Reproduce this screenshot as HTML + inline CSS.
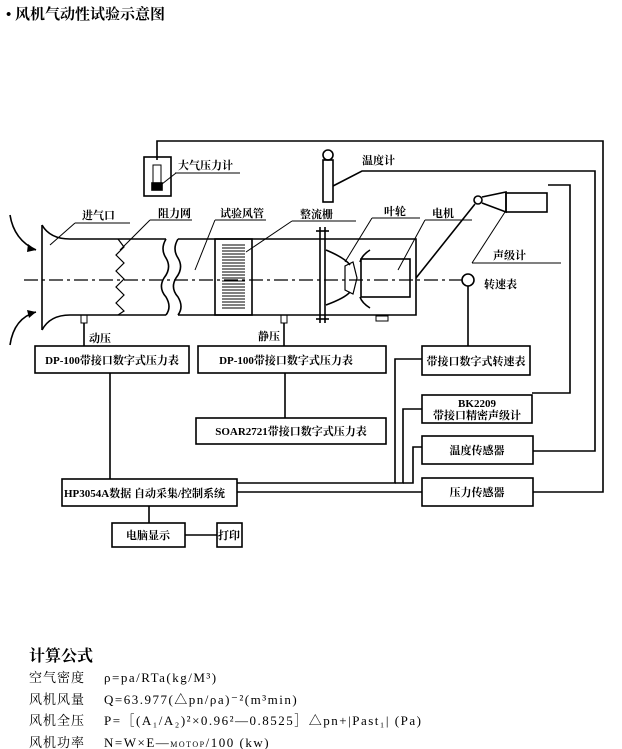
<!DOCTYPE html>
<html><head><meta charset="utf-8"><style>
html,body{margin:0;padding:0;background:#fff;}
svg{display:block;}
text{font-family:"Liberation Serif","Noto Serif CJK SC","Noto Sans CJK SC",serif;fill:#000;}
.b{font-weight:bold;font-size:11px;}
</style></head><body>
<svg width="622" height="749" viewBox="0 0 622 749" xmlns="http://www.w3.org/2000/svg">
<g fill="none" stroke="#000" stroke-width="1.6">
<polyline points="157,160 157,141 603,141 603,492 533,492"/>
<polyline points="333,186 362,171 595,171 595,451 533,451"/>
<polyline points="548,185 570,185 570,393 532,393"/>
<polyline points="237,483 395,483 395,359 422,359"/>
<polyline points="395,483 403,483 403,409 422,409"/>
<polyline points="403,483 413,483 413,447 422,447"/>
<line x1="237" y1="492" x2="422" y2="492"/>
<line x1="110" y1="373" x2="110" y2="479"/>
<line x1="285" y1="373" x2="285" y2="418"/>
<line x1="149" y1="506" x2="149" y2="523"/>
<line x1="185" y1="535" x2="217" y2="535"/>
<line x1="468" y1="286" x2="468" y2="346"/>
<line x1="84" y1="323" x2="84" y2="346"/>
<line x1="284" y1="323" x2="284" y2="346"/>
<rect x="35" y="346" width="154" height="27"/>
<rect x="198" y="346" width="188" height="27"/>
<rect x="422" y="346" width="108" height="29"/>
<rect x="422" y="395" width="110" height="28"/>
<rect x="196" y="418" width="190" height="26"/>
<rect x="422" y="436" width="111" height="28"/>
<rect x="422" y="478" width="111" height="28"/>
<rect x="62" y="479" width="175" height="27"/>
<rect x="112" y="523" width="73" height="24"/>
<rect x="217" y="523" width="25" height="24"/>
<rect x="144" y="157" width="27" height="39"/>
<rect x="153" y="165" width="8" height="18" stroke-width="1"/>
<rect x="152" y="183" width="10" height="7" fill="#000"/>
<line x1="162" y1="184" x2="176" y2="173" stroke-width="1"/>
<line x1="175" y1="173" x2="240" y2="173" stroke-width="1"/>
<circle cx="328" cy="155" r="5"/>
<rect x="323" y="160" width="10" height="42"/>
<path d="M42,225 Q50,239 70,239 L166,239"/>
<path d="M42,330 Q50,315 70,315 L166,315"/>
<line x1="42" y1="225" x2="42" y2="330"/>
<path d="M166,239 q-6,10 0,19 q6,10 -2,20 q-6,10 2,19 q6,10 0,18"/>
<path d="M178,239 q-6,10 0,19 q6,10 -2,20 q-6,10 2,19 q6,10 0,18"/>
<path d="M178,239 L416,239 L416,315 L178,315"/>
<polyline points="118,239 124,247 116,255 124,263 116,271 124,279 116,287 124,295 116,303 124,311 118,315" stroke-width="1.2"/>
<rect x="215" y="239" width="37" height="76"/>
<line x1="320" y1="227" x2="320" y2="323"/>
<line x1="325" y1="227" x2="325" y2="323"/>
<line x1="316" y1="231" x2="329" y2="231"/>
<line x1="316" y1="319" x2="329" y2="319"/>
<path d="M326,250 Q345,258 350,265"/>
<path d="M326,305 Q345,298 350,292"/>
<path d="M370,250 Q362,255 360,262"/>
<path d="M370,308 Q362,303 360,297"/>
<path d="M345,266 l8,-4 l4,16 l-4,16 l-8,-4 z" stroke-width="1.2"/>
<rect x="361" y="259" width="49" height="38"/>
<rect x="376" y="316" width="12" height="5" stroke-width="1"/>
<circle cx="478" cy="200" r="4"/>
<polyline points="482,197 506,192 506,212 482,203"/>
<rect x="506" y="193" width="41" height="19"/>
<line x1="475" y1="204" x2="416" y2="278"/>
<line x1="505" y1="212" x2="472" y2="263" stroke-width="1"/>
<line x1="472" y1="263" x2="561" y2="263" stroke-width="1"/>
<circle cx="468" cy="280" r="6"/>
<g stroke-width="1">
<line x1="75" y1="223" x2="130" y2="223"/><line x1="75" y1="223" x2="50" y2="245"/>
<line x1="150" y1="220" x2="192" y2="220"/><line x1="150" y1="220" x2="120" y2="250"/>
<line x1="215" y1="220" x2="266" y2="220"/><line x1="215" y1="220" x2="195" y2="270"/>
<line x1="292" y1="221" x2="356" y2="221"/><line x1="292" y1="221" x2="246" y2="252"/>
<line x1="372" y1="218" x2="420" y2="218"/><line x1="372" y1="218" x2="345" y2="262"/>
<line x1="425" y1="220" x2="472" y2="220"/><line x1="425" y1="220" x2="398" y2="270"/>
</g>
<line x1="24" y1="280" x2="462" y2="280" stroke-width="1.2" stroke-dasharray="14,4,3,4"/>
<path d="M10,215 Q14,240 36,250"/>
<path d="M10,345 Q14,318 36,312"/>
<rect x="81" y="315" width="6" height="8" stroke-width="1"/>
<rect x="281" y="315" width="6" height="8" stroke-width="1"/>
</g>
<g stroke="#000" stroke-width="1">
<line x1="222" y1="245" x2="245" y2="245"/><line x1="222" y1="248" x2="245" y2="248"/><line x1="222" y1="251" x2="245" y2="251"/><line x1="222" y1="254" x2="245" y2="254"/><line x1="222" y1="257" x2="245" y2="257"/><line x1="222" y1="260" x2="245" y2="260"/><line x1="222" y1="263" x2="245" y2="263"/><line x1="222" y1="266" x2="245" y2="266"/><line x1="222" y1="269" x2="245" y2="269"/><line x1="222" y1="272" x2="245" y2="272"/><line x1="222" y1="275" x2="245" y2="275"/><line x1="222" y1="278" x2="245" y2="278"/><line x1="222" y1="281" x2="245" y2="281"/><line x1="222" y1="284" x2="245" y2="284"/><line x1="222" y1="287" x2="245" y2="287"/><line x1="222" y1="290" x2="245" y2="290"/><line x1="222" y1="293" x2="245" y2="293"/><line x1="222" y1="296" x2="245" y2="296"/><line x1="222" y1="299" x2="245" y2="299"/><line x1="222" y1="302" x2="245" y2="302"/><line x1="222" y1="305" x2="245" y2="305"/><line x1="222" y1="308" x2="245" y2="308"/>
</g>
<polygon points="36,250 28,244 27,252" fill="#000"/>
<polygon points="36,312 27,310 29,318" fill="#000"/>
<text x="6" y="19" font-size="15" font-weight="bold">• 风机气动性试验示意图</text>
<g class="b">
<text x="178" y="169">大气压力计</text>
<text x="362" y="164">温度计</text>
<text x="82" y="219">进气口</text>
<text x="158" y="217">阻力网</text>
<text x="220" y="217">试验风管</text>
<text x="300" y="218">整流栅</text>
<text x="384" y="215">叶轮</text>
<text x="432" y="217">电机</text>
<text x="493" y="259">声级计</text>
<text x="484" y="288">转速表</text>
<text x="89" y="342">动压</text>
<text x="258" y="340">静压</text>
<text x="112" y="364" text-anchor="middle">DP-100带接口数字式压力表</text>
<text x="286" y="364" text-anchor="middle">DP-100带接口数字式压力表</text>
<text x="476" y="365" text-anchor="middle">带接口数字式转速表</text>
<text x="477" y="407" text-anchor="middle">BK2209</text>
<text x="477" y="419" text-anchor="middle">带接口精密声级计</text>
<text x="291" y="435" text-anchor="middle">SOAR2721带接口数字式压力表</text>
<text x="477" y="454" text-anchor="middle">温度传感器</text>
<text x="477" y="496" text-anchor="middle">压力传感器</text>
<text x="64" y="497">HP3054A数据   自动采集/控制系统</text>
<text x="148" y="539" text-anchor="middle">电脑显示</text>
<text x="229" y="539" text-anchor="middle">打印</text>
</g>
<text x="29" y="661" font-size="16" font-weight="bold">计算公式</text>
<g font-size="13">
<text x="29" y="682" letter-spacing="1">空气密度</text><text x="104" y="682" letter-spacing="1.5">ρ=pa/RTa(kg/M³)</text>
<text x="29" y="704" letter-spacing="1">风机风量</text><text x="104" y="704" letter-spacing="1.5">Q=63.977(△pn/ρa)⁻²(m³min)</text>
<text x="29" y="725" letter-spacing="1">风机全压</text><text x="104" y="725" letter-spacing="1.5">P=［(A₁/A₂)²×0.96²—0.8525］△pn+|Past₁| (Pa)</text>
<text x="29" y="747" letter-spacing="1">风机功率</text><text x="104" y="747" letter-spacing="1.5">N=W×E—<tspan font-size="8">MOTOP</tspan>/100  (kw)</text>
</g>
</svg>
</body></html>
